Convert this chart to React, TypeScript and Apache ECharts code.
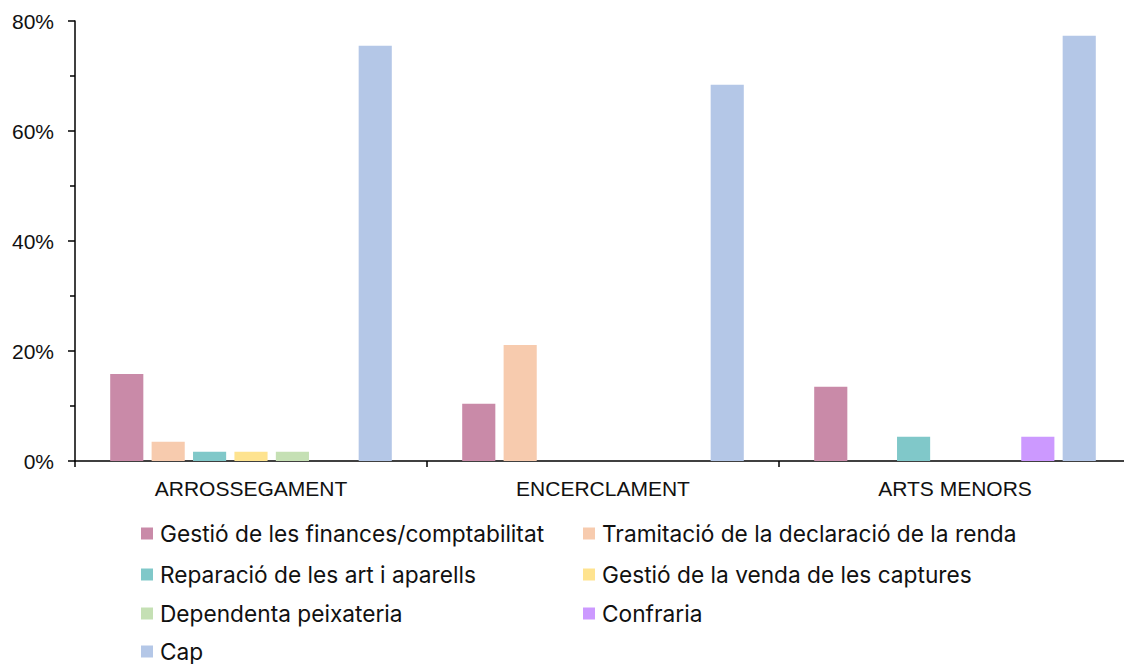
import React, { useEffect, useRef } from "react";
import * as echarts from "echarts";

const categories = ["ARROSSEGAMENT", "ENCERCLAMENT", "ARTS MENORS"];
const seriesNames = [
  "Gestió de les finances/comptabilitat",
  "Tramitació de la declaració de la renda",
  "Reparació de les art i aparells",
  "Gestió de la venda de les captures",
  "Dependenta peixateria",
  "Confraria",
  "Cap",
];
const gestio = [15.8, 10.4, 13.5];
const tramitacio = [3.5, 21.1, 0];
const reparacio = [1.7, 0, 4.4];
const venda = [1.7, 0, 0];
const dependenta = [1.7, 0, 0];
const confraria = [0, 0, 4.4];
const cap = [75.5, 68.4, 77.3];
const seriesValues = [gestio, tramitacio, reparacio, venda, dependenta, confraria, cap];
const colors = ["#C98AA8", "#F7CBAE", "#80C8C9", "#FEE38F", "#C5E0B4", "#CC99FF", "#B4C7E7"];
const yTicks = [0, 20, 40, 60, 80];

const legendPos = [
  { left: 141, top: 522 },
  { left: 583, top: 522 },
  { left: 141, top: 563 },
  { left: 583, top: 563 },
  { left: 141, top: 602 },
  { left: 583, top: 602 },
  { left: 141, top: 640 },
];

export default function App() {
  const ref = useRef<HTMLDivElement>(null);
  useEffect(() => {
    const chart = echarts.init(ref.current!, null, { renderer: "svg" });
    const font = "'Liberation Sans', Arial, Helvetica, sans-serif";
    const legendFont = "Inter, 'Liberation Sans', sans-serif";
    chart.setOption({
      animation: false,
      textStyle: { fontFamily: font },
      grid: { left: 75, top: 21, right: 0, bottom: 203, containLabel: false },
      legend: seriesNames.map((n, i) => ({
        data: [n],
        left: legendPos[i].left,
        top: legendPos[i].top,
        icon: "rect",
        itemWidth: 12,
        itemHeight: 12,
        padding: 0,
        selectedMode: false,
        textStyle: {
          fontSize: 22.7,
          lineHeight: 22,
          color: "#111",
          fontFamily: legendFont,
          padding: [0, 0, 0, 2],
        },
      })),
      xAxis: {
        type: "category",
        data: categories,
        axisLine: { lineStyle: { color: "#000", width: 1.5 } },
        axisTick: { show: true, length: 6, lineStyle: { color: "#000", width: 1.5 } },
        axisLabel: { fontSize: 21, color: "#111", margin: 17, fontFamily: font },
      },
      yAxis: {
        type: "value",
        min: 0,
        max: 80,
        interval: 20,
        axisLine: { show: true, lineStyle: { color: "#000", width: 1.5 } },
        axisTick: { show: true, length: 7, lineStyle: { color: "#000", width: 1.5 } },
        minorTick: { show: true, splitNumber: 2, length: 5, lineStyle: { color: "#000", width: 1.5 } },
        splitLine: { show: false },
        axisLabel: {
          fontSize: 21,
          color: "#111",
          margin: 21,
          fontFamily: font,
          formatter: (v: number) => (yTicks.includes(v) ? v + "%" : ""),
        },
      },
      series: seriesNames.map((n, i) => ({
        name: n,
        type: "bar",
        data: seriesValues[i],
        barGap: "25%",
        barCategoryGap: "20%",
        itemStyle: { color: colors[i] },
      })),
    });
    return () => chart.dispose();
  }, []);
  return (
    <div
      style={{
        position: "fixed",
        left: 0,
        top: 0,
        width: 1124,
        height: 664,
        overflow: "hidden",
        background: "#fff",
      }}
    >
      <div ref={ref} style={{ width: 1131, height: 664 }} />
    </div>
  );
}
